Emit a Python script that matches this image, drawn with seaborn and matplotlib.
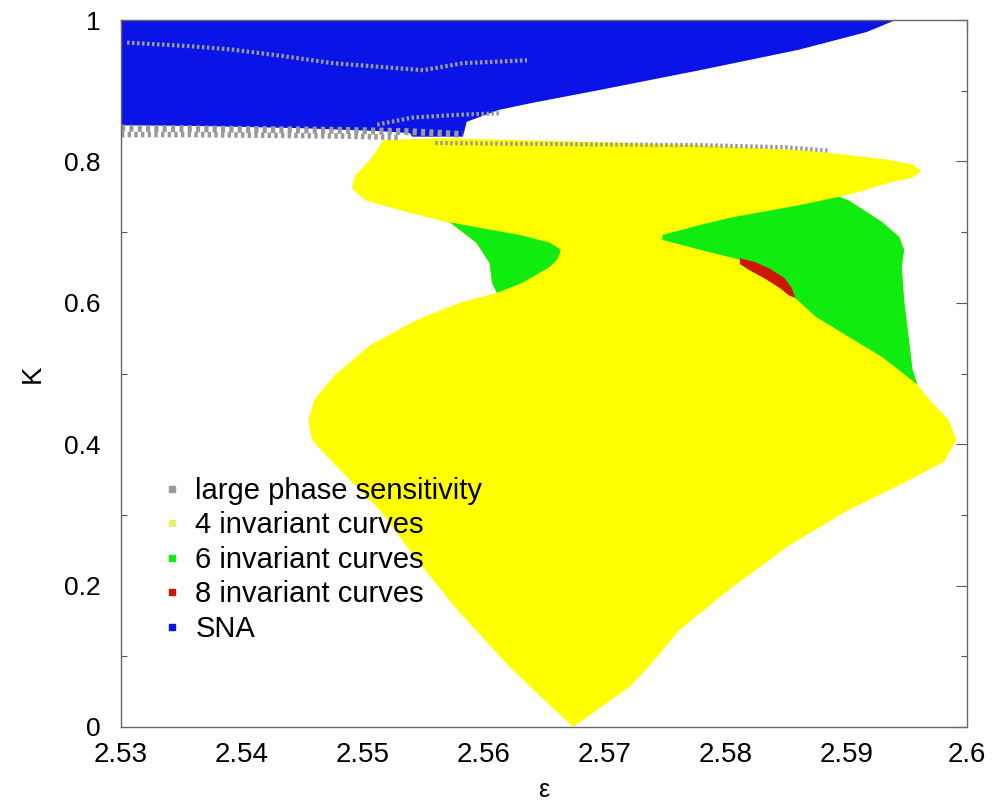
import matplotlib
matplotlib.use("Agg")
import matplotlib.pyplot as plt
from matplotlib.lines import Line2D
import seaborn as sns
import pandas as pd

# ---- data: region boundaries in (epsilon, K) ----
sna_eps = [2.5300, 2.5941, 2.5917, 2.5861, 2.5779, 2.5696, 2.5641, 2.5613, 2.5586,
           2.5583, 2.5541, 2.5539, 2.5512, 2.5448, 2.5365, 2.5300]
sna_K = [1.000, 1.000, 0.983, 0.958, 0.929, 0.901, 0.883, 0.873, 0.856,
         0.835, 0.835, 0.840, 0.843, 0.847, 0.850, 0.851]

inv4_eps = [2.5674, 2.5646, 2.5621, 2.5578, 2.5545, 2.5514, 2.5473, 2.5458, 2.5455, 2.5460,
            2.5477, 2.5506, 2.5545, 2.5580, 2.5611, 2.5607, 2.5605, 2.5594, 2.5572, 2.5531,
            2.5502, 2.5491, 2.5494, 2.5506, 2.5517, 2.5564, 2.5696, 2.5779, 2.5861, 2.5902,
            2.5936, 2.5956, 2.5962, 2.5955, 2.5936, 2.5911, 2.5894, 2.5902, 2.5930, 2.5944,
            2.5948, 2.5946, 2.5948, 2.5952, 2.5955, 2.5959, 2.5969, 2.5985, 2.5991, 2.5981,
            2.5944, 2.5902, 2.5853, 2.5803, 2.5762, 2.5737, 2.5721]
inv4_K = [0.000, 0.045, 0.086, 0.166, 0.236, 0.307, 0.378, 0.406, 0.434, 0.463,
          0.498, 0.540, 0.576, 0.600, 0.614, 0.628, 0.656, 0.685, 0.713, 0.731,
          0.745, 0.762, 0.781, 0.802, 0.830, 0.833, 0.827, 0.823, 0.816, 0.809,
          0.802, 0.795, 0.786, 0.777, 0.770, 0.757, 0.750, 0.745, 0.714, 0.693,
          0.675, 0.651, 0.604, 0.547, 0.505, 0.484, 0.463, 0.434, 0.406, 0.375,
          0.342, 0.307, 0.257, 0.194, 0.137, 0.086, 0.057]

inv6a_eps = [2.5748, 2.5779, 2.5806, 2.5861, 2.5894, 2.5902, 2.5930, 2.5944, 2.5948, 2.5946,
             2.5948, 2.5952, 2.5955, 2.5959, 2.5954, 2.5930, 2.5902, 2.5875, 2.5857, 2.5845,
             2.5828, 2.5812, 2.5779, 2.5748]
inv6a_K = [0.696, 0.710, 0.721, 0.738, 0.750, 0.745, 0.714, 0.693, 0.675, 0.651,
           0.604, 0.547, 0.505, 0.484, 0.491, 0.523, 0.552, 0.580, 0.608, 0.632,
           0.649, 0.661, 0.675, 0.689]

inv6b_eps = [2.5572, 2.5597, 2.5630, 2.5655, 2.5664, 2.5661, 2.5655, 2.5632, 2.5611, 2.5607,
             2.5605, 2.5594]
inv6b_K = [0.714, 0.706, 0.696, 0.685, 0.675, 0.661, 0.651, 0.628, 0.614, 0.628,
           0.656, 0.685]

inv8_eps = [2.5812, 2.5824, 2.5836, 2.5849, 2.5855, 2.5858, 2.5853, 2.5845, 2.5832, 2.5820, 2.5812]
inv8_K = [0.663, 0.658, 0.649, 0.635, 0.621, 0.607, 0.610, 0.621, 0.635, 0.646, 0.655]

# large phase sensitivity: chains of grid points
lps_band1_eps = [2.5300, 2.5360, 2.5420, 2.5480, 2.5540, 2.5583]
lps_band1_K = [0.847, 0.846, 0.845, 0.844, 0.842, 0.838]
lps_band2_eps = [2.5300, 2.5360, 2.5420, 2.5480, 2.5530]
lps_band2_K = [0.838, 0.838, 0.837, 0.836, 0.834]
lps_band3_eps = [2.5560, 2.5620, 2.5700, 2.5780, 2.5850, 2.5886]
lps_band3_K = [0.826, 0.825, 0.824, 0.823, 0.820, 0.815]
lps_wing_eps = [2.5305, 2.5357, 2.5393, 2.5434, 2.5475, 2.5550, 2.5583, 2.5636]
lps_wing_K = [0.968, 0.963, 0.958, 0.949, 0.939, 0.929, 0.939, 0.943]
lps_mid_eps = [2.5512, 2.5541, 2.5580, 2.5613]
lps_mid_K = [0.852, 0.862, 0.866, 0.868]

legend_labels = ["large phase sensitivity", "4 invariant curves", "6 invariant curves",
                 "8 invariant curves", "SNA"]

x_ticks = [2.53, 2.54, 2.55, 2.56, 2.57, 2.58, 2.59, 2.60]
x_tick_labels = ["2.53", "2.54", "2.55", "2.56", "2.57", "2.58", "2.59", "2.6"]
y_ticks = [0, 0.2, 0.4, 0.6, 0.8, 1.0]
y_tick_labels = ["0", "0.2", "0.4", "0.6", "0.8", "1"]

# ---- style ----
sns.set_theme(style="white")
plt.rcParams["font.family"] = ["Liberation Sans", "DejaVu Sans"]
plt.rcParams["text.color"] = "black"
plt.rcParams["axes.labelcolor"] = "black"
plt.rcParams["xtick.labelcolor"] = "black"
plt.rcParams["ytick.labelcolor"] = "black"

c_grey = "#9a9a9a"
c_yellow = "#ffff00"
c_green = "#10ec10"
c_red = "#cc1800"
c_blue = "#0a14e6"

fig = plt.figure(figsize=(9.92, 8.08), dpi=100)
ax = fig.add_axes([121 / 992, 81 / 808, 846 / 992, 707 / 808])

ax.fill(sna_eps, sna_K, color=c_blue, lw=0)
ax.fill(inv4_eps, inv4_K, color=c_yellow, lw=0)
ax.fill(inv6a_eps, inv6a_K, color=c_green, lw=0)
ax.fill(inv6b_eps, inv6b_K, color=c_green, lw=0)
ax.fill(inv8_eps, inv8_K, color=c_red, lw=0)

for e, k, lw in [(lps_band1_eps, lps_band1_K, 5), (lps_band2_eps, lps_band2_K, 4),
                 (lps_band3_eps, lps_band3_K, 3), (lps_wing_eps, lps_wing_K, 3),
                 (lps_mid_eps, lps_mid_K, 3)]:
    df = pd.DataFrame({"eps": e, "K": k})
    sns.lineplot(data=df, x="eps", y="K", ax=ax, sort=False, color=c_grey,
                 lw=lw, linestyle=(0, (0.6, 0.6)), estimator=None)

ax.set_xlim(2.53, 2.60)
ax.set_ylim(0, 1)
ax.set_xticks(x_ticks)
ax.set_xticklabels(x_tick_labels, fontsize=20)
ax.set_yticks(y_ticks)
ax.set_yticklabels(y_tick_labels, fontsize=19)
ax.set_yticks([0.1, 0.3, 0.5, 0.7, 0.9], minor=True)
ax.tick_params(axis="both", which="major", direction="in", length=8, width=0.8,
               top=True, right=True, color="#555555", labelcolor="black")
ax.tick_params(axis="y", which="minor", direction="in", length=4, width=0.8,
               left=True, right=True, color="#555555")
ax.tick_params(axis="x", which="major", pad=11)
ax.tick_params(axis="y", which="major", pad=15)
for s in ax.spines.values():
    s.set_color("#666666")
    s.set_linewidth(1.0)

ax.set_xlabel("ε", fontsize=18, labelpad=7, color="black")
ax.set_ylabel("K", fontsize=20, labelpad=13, color="black")

handles = [Line2D([], [], ls="none", marker="s", ms=4, color=c)
           for c in [c_grey, "#e8f070", c_green, c_red, c_blue]]
leg = ax.legend(handles, legend_labels, loc="upper left", bbox_to_anchor=(0.036, 0.37),
                frameon=False, fontsize=21, handlelength=0.6, handletextpad=0.5,
                labelspacing=0.22, borderaxespad=0)
for t in leg.get_texts():
    t.set_color("black")

fig.savefig("out.png", dpi=100)
